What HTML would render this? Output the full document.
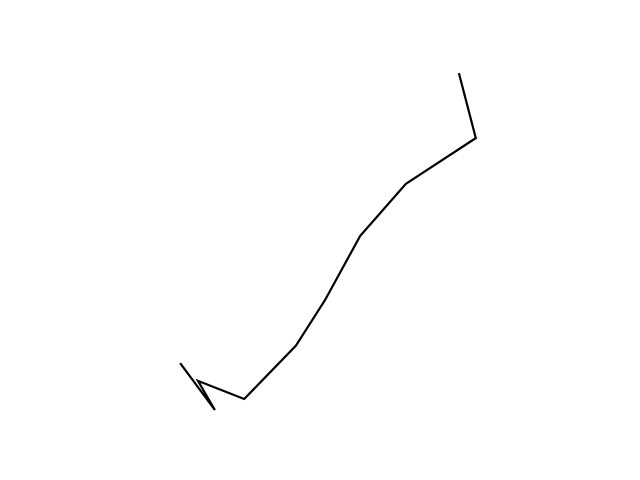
<!DOCTYPE html>
<html><head><meta charset="utf-8"><style>html,body{margin:0;padding:0;background:#fff}svg{display:block}</style></head>
<body>
<svg id="chart" width="640" height="480" viewBox="0 0 640 480" xmlns="http://www.w3.org/2000/svg">
<rect x="0" y="0" width="640" height="480" fill="#fff"/>
<g id="plot"></g>
</svg>
<script>
const xValues = [0.202, 0.272, 0.238, 0.331, 0.435, 0.494, 0.565, 0.657, 0.798, 0.764];
const yValues = [0.173, 0.046, 0.125, 0.076, 0.220, 0.344, 0.518, 0.659, 0.783, 0.959];
function xScale(v){ return 80 + v * 496; }
function yScale(v){ return 427 - v * 369; }
const g = document.getElementById('plot');
const pts = xValues.map((x,i)=>xScale(x).toFixed(1)+','+yScale(yValues[i]).toFixed(1)).join(' ');
const line = document.createElementNS('http://www.w3.org/2000/svg','polyline');


line.setAttribute('points', pts);
line.setAttribute('fill', 'none');
line.setAttribute('stroke', '#000');
line.setAttribute('stroke-width', '2.2');
line.setAttribute('stroke-linejoin', 'miter');
line.setAttribute('stroke-linecap', 'butt');
g.appendChild(line);
</script>
</body></html>
